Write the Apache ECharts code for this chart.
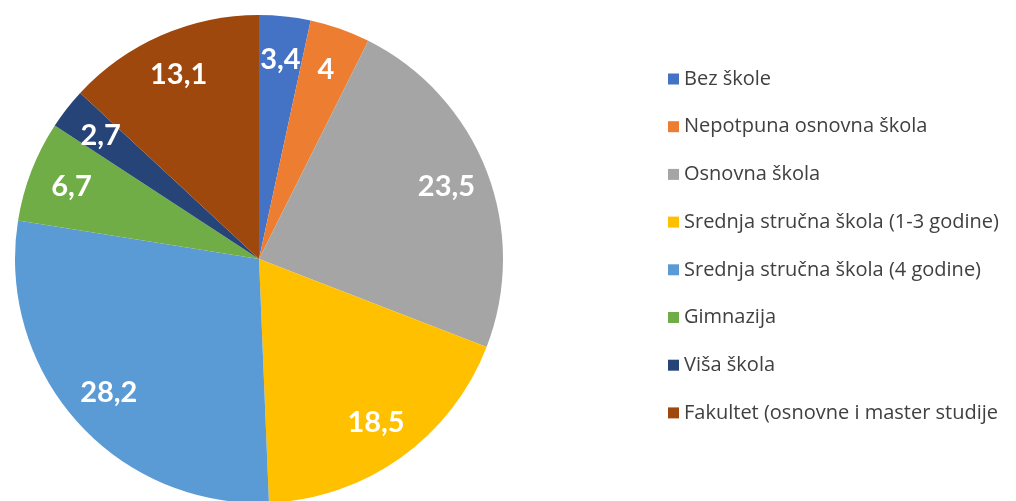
<!DOCTYPE html>
<html>
<head>
<meta charset="utf-8">
<script src="https://cdn.jsdelivr.net/npm/echarts@6/dist/echarts.min.js"></script>
<style>
html,body{margin:0;padding:0;background:#fff;}
#chart{width:1016px;height:501px;}
</style>
</head>
<body>
<div id="chart"></div>
<script>
const categories = [
  "Bez škole",
  "Nepotpuna osnovna škola",
  "Osnovna škola",
  "Srednja stručna škola (1-3 godine)",
  "Srednja stručna škola (4 godine)",
  "Gimnazija",
  "Viša škola",
  "Fakultet (osnovne i master studije"
];
const values = [3.4, 4, 23.5, 18.5, 28.2, 6.7, 2.7, 13.1];
const labels = ["3,4", "4", "23,5", "18,5", "28,2", "6,7", "2,7", "13,1"];
const colors = ["#4472C4", "#ED7D31", "#A5A5A5", "#FFC000", "#5B9BD5", "#70AD47", "#264478", "#9E480E"];

const data = categories.map((c, i) => ({ name: c, value: values[i], itemStyle: { color: colors[i] } }));
const overlay = categories.map((c, i) => ({
  name: c, value: values[i],
  itemStyle: { color: 'rgba(0,0,0,0)' },
  label: { formatter: labels[i] }
}));

const chart = echarts.init(document.getElementById('chart'), null, { renderer: 'canvas' });
chart.setOption({
  animation: false,
  color: colors,
  legend: {
    orient: 'vertical',
    left: 663,
    top: 64,
    itemWidth: 11,
    itemHeight: 11,
    itemGap: 27.7,
    icon: 'rect',
    data: categories,
    textStyle: { fontFamily: 'Open Sans', fontSize: 20, color: '#404040', lineHeight: 20, padding: [0, 0, 0, 0] },
    selectedMode: false
  },
  series: [
    {
      type: 'pie',
      center: [259, 259],
      radius: [0, 244],
      startAngle: 90,
      clockwise: true,
      label: { show: false },
      labelLine: { show: false },
      emphasis: { disabled: true },
      itemStyle: { borderWidth: 0 },
      data: data
    },
    {
      type: 'pie',
      center: [259, 259],
      radius: [152, 244],
      startAngle: 90,
      clockwise: true,
      silent: true,
      legendHoverLink: false,
      label: {
        show: true,
        position: 'inside',
        color: '#ffffff',
        fontFamily: 'Lato',
        fontWeight: 'bold',
        fontSize: 29
      },
      labelLine: { show: false },
      emphasis: { disabled: true },
      itemStyle: { borderWidth: 0 },
      data: overlay
    }
  ]
});
</script>
</body>
</html>
